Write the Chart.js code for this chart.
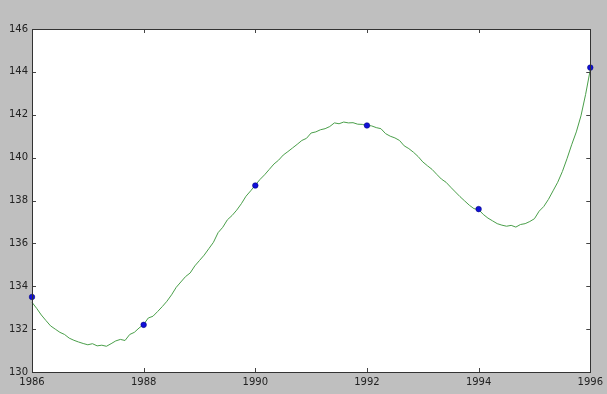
<!DOCTYPE html>
<html>
<head>
<meta charset="utf-8">
<script src="https://cdn.jsdelivr.net/npm/chart.js@4"></script>
<style>
  html, body { margin: 0; padding: 0; background: #bfbfbf; }
  #wrap { width: 607px; height: 394px; }
</style>
</head>
<body>
<div id="wrap"><canvas id="c" width="607" height="394"></canvas></div>
<script>
// ---- data ----
const startYear = 1986;              // first monthly sample
const monthlyValues = [
  133.25, 132.97, 132.66, 132.40, 132.15, 132.00, 131.85, 131.75, 131.58, 131.48, 131.40, 131.33,
  131.27, 131.32, 131.22, 131.25, 131.20, 131.32, 131.45, 131.52, 131.47, 131.75, 131.85, 132.05,
  132.22, 132.52, 132.60, 132.82, 133.05, 133.30, 133.60, 133.95, 134.20, 134.45, 134.62, 134.95,
  135.20, 135.45, 135.75, 136.05, 136.50, 136.75, 137.10, 137.30, 137.55, 137.85, 138.20, 138.45,
  138.72, 138.98, 139.20, 139.45, 139.70, 139.88, 140.12, 140.28, 140.45, 140.62, 140.80, 140.90,
  141.15, 141.20, 141.30, 141.35, 141.45, 141.62, 141.58, 141.66, 141.62, 141.63, 141.56, 141.55,
  141.50, 141.48, 141.40, 141.35, 141.12, 141.00, 140.92, 140.80, 140.55, 140.42, 140.25, 140.05,
  139.80, 139.62, 139.45, 139.22, 139.00, 138.85, 138.62, 138.40, 138.18, 137.98, 137.78, 137.62,
  137.58, 137.35, 137.18, 137.05, 136.92, 136.85, 136.80, 136.84, 136.76, 136.88, 136.92, 137.02,
  137.15, 137.50, 137.72, 138.05, 138.45, 138.85, 139.35, 139.95, 140.60, 141.20, 141.95, 142.95,
  144.10
];
const markerYears  = [1986, 1988, 1990, 1992, 1994, 1996];
const markerValues = [133.5, 132.2, 138.7, 141.5, 137.6, 144.2];
const xTicks = [1986, 1988, 1990, 1992, 1994, 1996];
const yTicks = [130, 132, 134, 136, 138, 140, 142, 144, 146];

// ---- build datasets ----
const linePts = monthlyValues.map((v, i) => ({ x: startYear + i / 12, y: v }));
const dotPts = markerYears.map((yr, i) => ({ x: yr, y: markerValues[i] }));

const frame = {
  id: 'frame',
  beforeDraw(chart) {
    const { ctx, chartArea: a } = chart;
    ctx.save();
    ctx.fillStyle = '#bfbfbf';
    ctx.fillRect(0, 0, chart.width, chart.height);
    ctx.fillStyle = '#ffffff';
    ctx.fillRect(a.left, a.top, a.right - a.left, a.bottom - a.top);
    ctx.restore();
  },
  afterDatasetsDraw(chart) {
    const { ctx, chartArea: a, scales } = chart;
    ctx.save();
    ctx.strokeStyle = '#444';
    ctx.lineWidth = 1;
    ctx.beginPath();
    // inward ticks, matplotlib style
    xTicks.forEach(t => {
      const px = Math.round(scales.x.getPixelForValue(t)) + 0.5;
      ctx.moveTo(px, a.bottom); ctx.lineTo(px, a.bottom - 4);
      ctx.moveTo(px, a.top); ctx.lineTo(px, a.top + 4);
    });
    yTicks.forEach(t => {
      const py = Math.round(scales.y.getPixelForValue(t)) + 0.5;
      ctx.moveTo(a.left, py); ctx.lineTo(a.left + 4, py);
      ctx.moveTo(a.right, py); ctx.lineTo(a.right - 4, py);
    });
    ctx.stroke();
    ctx.strokeStyle = '#333';
    ctx.strokeRect(Math.round(a.left) + 0.5, Math.round(a.top) + 0.5,
                   Math.round(a.right - a.left), Math.round(a.bottom - a.top));
    ctx.restore();
  }
};

new Chart(document.getElementById('c'), {
  type: 'scatter',
  data: {
    datasets: [
      {
        data: linePts,
        showLine: true,
        borderColor: '#4a9f4a',
        borderWidth: 1,
        pointRadius: 0,
        tension: 0,
        order: 2
      },
      {
        data: dotPts,
        showLine: false,
        backgroundColor: '#1010d8',
        borderColor: '#000070',
        borderWidth: 0.5,
        pointRadius: 2.8,
        order: 1
      }
    ]
  },
  options: {
    responsive: false,
    animation: false,
    devicePixelRatio: 1,
    clip: false,
    layout: { padding: { left: 0, top: 29, right: 15, bottom: 0 } },
    plugins: { legend: { display: false }, tooltip: { enabled: false } },
    scales: {
      x: {
        type: 'linear',
        min: 1986, max: 1996,
        grid: { display: false, drawTicks: false },
        border: { display: false },
        afterBuildTicks(s) { s.ticks = xTicks.map(v => ({ value: v })); },
        afterFit(s) { s.height = 22; },
        ticks: {
          autoSkip: false, maxRotation: 0, padding: 4,
          color: '#222',
          font: { family: 'DejaVu Sans', size: 10 },
          callback: v => String(v)
        }
      },
      y: {
        min: 130, max: 146,
        grid: { display: false, drawTicks: false },
        border: { display: false },
        afterBuildTicks(s) { s.ticks = yTicks.map(v => ({ value: v })); },
        afterFit(s) { s.width = 32; },
        ticks: {
          autoSkip: false, padding: 4,
          color: '#222',
          font: { family: 'DejaVu Sans', size: 10 },
          callback: v => String(v)
        }
      }
    }
  },
  plugins: [frame]
});
</script>
</body>
</html>
